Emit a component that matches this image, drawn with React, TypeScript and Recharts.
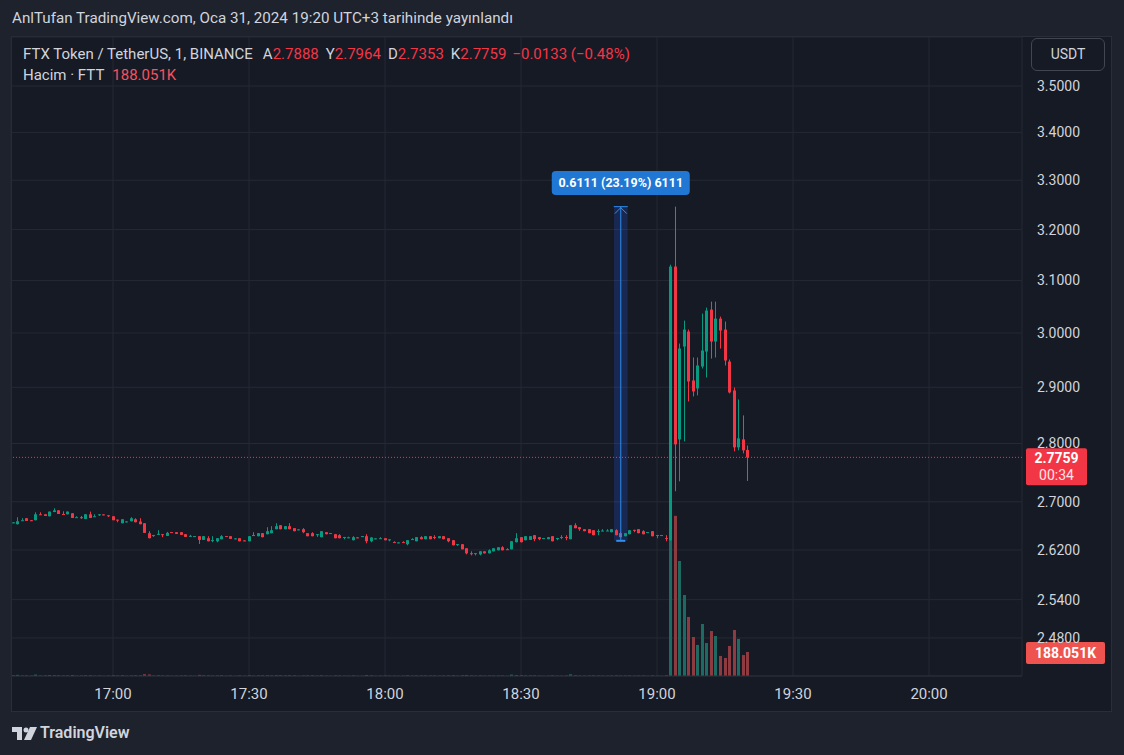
import React from 'react'
import {
  ComposedChart,
  Bar,
  XAxis,
  YAxis,
  CartesianGrid,
  ReferenceLine,
  ReferenceArea,
  ReferenceDot,
} from 'recharts'

// 1 dakikalık mumlar, 16:38'den 19:20'ye
const startMinute = 16 * 60 + 38
const slotCount = 223 // sağda 20:20'ye kadar boş alan

const open = [
  2.6650, 2.6625, 2.6685, 2.6724, 2.6691, 2.6691, 2.6790, 2.6790, 2.6757, 2.6828,
  2.6856, 2.6795, 2.6790, 2.6807, 2.6736, 2.6742, 2.6712, 2.6790, 2.6752, 2.6778,
  2.6788, 2.6774, 2.6757, 2.6700, 2.6641, 2.6667, 2.6674, 2.6707, 2.6669, 2.6641,
  2.6476, 2.6440, 2.6448, 2.6459, 2.6431, 2.6494, 2.6492, 2.6492, 2.6459, 2.6421,
  2.6424, 2.6426, 2.6365, 2.6393, 2.6355, 2.6343, 2.6377, 2.6428, 2.6426, 2.6386,
  2.6393, 2.6357, 2.6343, 2.6445, 2.6426, 2.6476, 2.6459, 2.6476, 2.6542, 2.6608,
  2.6542, 2.6592, 2.6559, 2.6535, 2.6542, 2.6476, 2.6476, 2.6455, 2.6410, 2.6492,
  2.6474, 2.6459, 2.6443, 2.6408, 2.6403, 2.6360, 2.6407, 2.6424, 2.6426, 2.6343,
  2.6386, 2.6390, 2.6393, 2.6370, 2.6329, 2.6320, 2.6329, 2.6294, 2.6374, 2.6343,
  2.6410, 2.6377, 2.6426, 2.6412, 2.6393, 2.6426, 2.6393, 2.6360, 2.6290, 2.6294,
  2.6228, 2.6147, 2.6143, 2.6128, 2.6178, 2.6145, 2.6178, 2.6195, 2.6244, 2.6213,
  2.6211, 2.6327, 2.6410, 2.6360, 2.6365, 2.6443, 2.6410, 2.6391, 2.6377, 2.6426,
  2.6391, 2.6408, 2.6412, 2.6377, 2.6608, 2.6575, 2.6542, 2.6542, 2.6525, 2.6507,
  2.6509, 2.6512, 2.6492, 2.6525, 2.6476, 2.6426, 2.6459, 2.6531, 2.6542, 2.6509,
  2.6490, 2.6509, 2.6440, 2.6441, 2.6395, 2.6360, 3.1270, 2.8072, 2.9747, 3.0027,
  2.9124, 2.8979, 2.9379, 2.9654, 3.0441, 2.9840, 3.0270, 3.0064, 2.9470, 2.8943,
  2.7933, 2.8072, 2.7888,
]

const high = [
  2.6658, 2.6740, 2.6724, 2.6726, 2.6693, 2.6823, 2.6823, 2.6792, 2.6835, 2.6890,
  2.6858, 2.6840, 2.6837, 2.6809, 2.6757, 2.6762, 2.6792, 2.6835, 2.6790, 2.6792,
  2.6790, 2.6776, 2.6759, 2.6702, 2.6709, 2.6673, 2.6740, 2.6724, 2.6724, 2.6643,
  2.6509, 2.6447, 2.6525, 2.6461, 2.6497, 2.6496, 2.6494, 2.6494, 2.6461, 2.6448,
  2.6430, 2.6428, 2.6428, 2.6426, 2.6426, 2.6395, 2.6443, 2.6430, 2.6428, 2.6392,
  2.6395, 2.6359, 2.6428, 2.6492, 2.6478, 2.6478, 2.6575, 2.6592, 2.6641, 2.6610,
  2.6594, 2.6641, 2.6561, 2.6541, 2.6559, 2.6478, 2.6492, 2.6462, 2.6511, 2.6494,
  2.6480, 2.6461, 2.6459, 2.6415, 2.6418, 2.6426, 2.6409, 2.6430, 2.6459, 2.6407,
  2.6392, 2.6410, 2.6395, 2.6376, 2.6343, 2.6326, 2.6343, 2.6362, 2.6393, 2.6412,
  2.6426, 2.6428, 2.6428, 2.6443, 2.6428, 2.6428, 2.6395, 2.6362, 2.6298, 2.6296,
  2.6230, 2.6178, 2.6150, 2.6180, 2.6180, 2.6211, 2.6230, 2.6246, 2.6261, 2.6228,
  2.6345, 2.6476, 2.6412, 2.6428, 2.6428, 2.6445, 2.6412, 2.6397, 2.6412, 2.6428,
  2.6398, 2.6443, 2.6443, 2.6610, 2.6641, 2.6577, 2.6544, 2.6544, 2.6527, 2.6542,
  2.6542, 2.6542, 2.6544, 2.6542, 2.6492, 2.6478, 2.6527, 2.6533, 2.6544, 2.6525,
  2.6496, 2.6511, 2.6447, 2.6447, 2.6443, 3.1306, 3.2461, 2.9803, 3.0233, 3.0064,
  2.9544, 2.9544, 3.0365, 3.0479, 3.0593, 3.0593, 3.0308, 3.0214, 2.9507, 2.8997,
  2.8781, 2.8496, 2.7964,
]

const low = [
  2.6648, 2.6620, 2.6683, 2.6679, 2.6686, 2.6689, 2.6780, 2.6762, 2.6755, 2.6826,
  2.6795, 2.6778, 2.6788, 2.6729, 2.6734, 2.6712, 2.6710, 2.6727, 2.6750, 2.6762,
  2.6782, 2.6745, 2.6691, 2.6658, 2.6639, 2.6665, 2.6672, 2.6656, 2.6623, 2.6479,
  2.6391, 2.6415, 2.6446, 2.6410, 2.6429, 2.6488, 2.6462, 2.6446, 2.6413, 2.6419,
  2.6422, 2.6299, 2.6363, 2.6341, 2.6327, 2.6327, 2.6375, 2.6422, 2.6380, 2.6384,
  2.6341, 2.6351, 2.6341, 2.6438, 2.6424, 2.6408, 2.6457, 2.6474, 2.6540, 2.6540,
  2.6540, 2.6540, 2.6507, 2.6533, 2.6476, 2.6424, 2.6424, 2.6415, 2.6408, 2.6457,
  2.6472, 2.6391, 2.6391, 2.6377, 2.6393, 2.6358, 2.6401, 2.6422, 2.6310, 2.6327,
  2.6384, 2.6388, 2.6358, 2.6343, 2.6323, 2.6318, 2.6323, 2.6277, 2.6372, 2.6341,
  2.6375, 2.6375, 2.6375, 2.6377, 2.6391, 2.6375, 2.6327, 2.6275, 2.6266, 2.6209,
  2.6128, 2.6112, 2.6112, 2.6112, 2.6143, 2.6143, 2.6176, 2.6193, 2.6193, 2.6207,
  2.6209, 2.6325, 2.6325, 2.6358, 2.6363, 2.6343, 2.6360, 2.6389, 2.6375, 2.6341,
  2.6360, 2.6377, 2.6360, 2.6375, 2.6557, 2.6514, 2.6507, 2.6474, 2.6441, 2.6443,
  2.6507, 2.6510, 2.6490, 2.6441, 2.6408, 2.6424, 2.6457, 2.6492, 2.6474, 2.6457,
  2.6488, 2.6424, 2.6393, 2.6439, 2.6343, 2.6350, 2.7178, 2.7347, 2.8037, 2.8745,
  2.8835, 2.8853, 2.9342, 2.9178, 2.9525, 2.9544, 2.9710, 2.9397, 2.8889, 2.7863,
  2.7881, 2.7829, 2.7353,
]

const close = [
  2.6655, 2.6674, 2.6691, 2.6679, 2.6686, 2.6790, 2.6783, 2.6762, 2.6835, 2.6856,
  2.6795, 2.6778, 2.6835, 2.6729, 2.6742, 2.6738, 2.6790, 2.6729, 2.6757, 2.6790,
  2.6784, 2.6762, 2.6691, 2.6694, 2.6707, 2.6671, 2.6724, 2.6658, 2.6625, 2.6481,
  2.6393, 2.6445, 2.6465, 2.6443, 2.6481, 2.6490, 2.6464, 2.6448, 2.6415, 2.6432,
  2.6428, 2.6365, 2.6426, 2.6343, 2.6362, 2.6393, 2.6426, 2.6424, 2.6382, 2.6390,
  2.6343, 2.6353, 2.6426, 2.6440, 2.6476, 2.6410, 2.6509, 2.6525, 2.6592, 2.6542,
  2.6592, 2.6542, 2.6509, 2.6539, 2.6492, 2.6426, 2.6426, 2.6460, 2.6509, 2.6459,
  2.6478, 2.6393, 2.6393, 2.6413, 2.6408, 2.6410, 2.6403, 2.6428, 2.6343, 2.6405,
  2.6390, 2.6394, 2.6360, 2.6374, 2.6325, 2.6324, 2.6325, 2.6360, 2.6379, 2.6410,
  2.6377, 2.6426, 2.6377, 2.6408, 2.6426, 2.6377, 2.6343, 2.6277, 2.6296, 2.6211,
  2.6145, 2.6143, 2.6148, 2.6178, 2.6145, 2.6195, 2.6228, 2.6244, 2.6195, 2.6209,
  2.6343, 2.6393, 2.6327, 2.6426, 2.6426, 2.6377, 2.6377, 2.6395, 2.6410, 2.6343,
  2.6396, 2.6413, 2.6408, 2.6608, 2.6559, 2.6542, 2.6509, 2.6476, 2.6443, 2.6511,
  2.6520, 2.6520, 2.6542, 2.6443, 2.6410, 2.6476, 2.6525, 2.6520, 2.6476, 2.6459,
  2.6494, 2.6426, 2.6445, 2.6445, 2.6391, 3.1270, 2.7985, 2.9710, 3.0064, 2.9106,
  2.8925, 2.9397, 2.9673, 3.0422, 2.9840, 3.0270, 3.0045, 2.9489, 2.8907, 2.7933,
  2.8090, 2.7881, 2.7759,
]

// hacim, bin FTT
const volume = [
  6, 9, 4, 5, 3, 11, 4, 5, 8, 7,
  6, 4, 5, 8, 3, 4, 7, 6, 3, 4,
  2, 3, 6, 4, 7, 3, 5, 6, 5, 14,
  12, 4, 6, 4, 5, 2, 3, 4, 5, 3,
  2, 9, 6, 5, 4, 5, 6, 2, 4, 2,
  5, 2, 7, 3, 5, 6, 6, 5, 7, 6,
  5, 6, 5, 2, 4, 5, 5, 3, 6, 3,
  2, 5, 4, 3, 3, 5, 2, 2, 8, 5,
  2, 3, 4, 3, 3, 2, 3, 6, 3, 5,
  4, 5, 4, 4, 3, 4, 5, 6, 3, 6,
  8, 5, 3, 5, 3, 4, 4, 4, 4, 2,
  11, 8, 7, 5, 5, 5, 3, 2, 3, 5,
  3, 3, 4, 13, 6, 4, 3, 4, 5, 4,
  3, 3, 4, 5, 4, 4, 5, 3, 4, 4,
  2, 5, 3, 2, 6, 1480, 1253, 900, 634, 462,
  305, 243, 407, 258, 352, 313, 157, 141, 235, 360,
  290, 164, 188.051,
]

const timeTicks = ['17:00', '17:30', '18:00', '18:30', '19:00', '19:30', '20:00']
const priceTicks = [2.48, 2.54, 2.62, 2.7, 2.8, 2.9, 3.0, 3.1, 3.2, 3.3, 3.4, 3.5]
const priceDomain = [2.4218, 3.6087]
const volumeDomain = [0, 5000]

const lastPrice = 2.7759
const lastVolume = 188.051
const rulerFrom = 2.635
const rulerTo = 3.2461
const rulerLabelAt = 3.2944
const rulerStart = '18:51'
const rulerMid = '18:52'
const rulerEnd = '18:53'

const UP = '#089981'
const DOWN = '#f23645'
const VOL_UP = '#1d6a62'
const VOL_DOWN = '#8e3a41'
const TEXT = '#d1d4dc'

const hhmm = (m: number) => `${Math.floor(m / 60)}:${String(m % 60).padStart(2, '0')}`

const rows = Array.from({ length: slotCount }, (_, i) => {
  const time = hhmm(startMinute + i)
  if (i >= open.length) return { time }
  return { time, o: open[i], h: high[i], l: low[i], c: close[i], vol: volume[i] }
})

const Candle = (props: any) => {
  const { x, y, width, height, payload } = props
  if (!payload || payload.o == null) return null
  const { o, h, l, c } = payload
  // bar spans [low, high] on a log axis, so open/close fall in between in log space
  const span = Math.log(h) - Math.log(l)
  const at = (v: number) => (span > 0 ? y + (height * (Math.log(h) - Math.log(v))) / span : y)
  const color = c >= o ? UP : DOWN
  const bx = Math.round(x)
  const bw = Math.max(1, Math.round(width))
  const top = at(Math.max(o, c))
  const bottom = at(Math.min(o, c))
  return (
    <g>
      <rect x={bx + Math.floor(bw / 2)} y={y} width={1} height={Math.max(1, height)} fill={color} />
      <rect x={bx} y={top} width={bw} height={Math.max(1, bottom - top)} fill={color} />
    </g>
  )
}

const VolumeBar = (props: any) => {
  const { x, y, width, height, payload } = props
  if (!payload || payload.vol == null) return null
  return (
    <rect
      x={Math.round(x)}
      y={y}
      width={Math.max(1, Math.round(width))}
      height={Math.max(1, height)}
      fill={payload.c >= payload.o ? VOL_UP : VOL_DOWN}
    />
  )
}

const PriceTag = (props: any) => {
  const { viewBox } = props
  if (!viewBox) return null
  const x = viewBox.x + viewBox.width + 4
  const y = viewBox.y
  return (
    <g>
      <rect x={x} y={y - 9} width={61} height={37} rx={2} fill={DOWN} />
      <text x={x + 30.5} y={y + 6} textAnchor="middle" fill="#ffffff" fontSize={14} fontWeight={700}>
        {lastPrice.toFixed(4)}
      </text>
      <text x={x + 30.5} y={y + 23} textAnchor="middle" fill="#ffe3e5" fontSize={14}>
        00:34
      </text>
    </g>
  )
}

const VolumeTag = (props: any) => {
  const { viewBox } = props
  if (!viewBox) return null
  const x = viewBox.x + viewBox.width + 4
  const y = viewBox.y
  return (
    <g>
      <rect x={x} y={y - 10} width={79} height={22} rx={2} fill="#ef5350" />
      <text x={x + 39.5} y={y + 6} textAnchor="middle" fill="#ffffff" fontSize={14} fontWeight={700}>
        {lastVolume.toFixed(3)}K
      </text>
    </g>
  )
}

const RulerHead = (props: any) => {
  const { cx, cy } = props
  return (
    <g stroke="#2f8ef0" strokeWidth={1} fill="none">
      <line x1={cx - 7} y1={cy} x2={cx + 7} y2={cy} />
      <polyline points={`${cx - 6},${cy + 7} ${cx},${cy + 1} ${cx + 6},${cy + 7}`} />
    </g>
  )
}

const RulerLabel = (props: any) => {
  const { cx, cy } = props
  return (
    <g>
      <rect x={cx - 69} y={cy - 12} width={138} height={24} rx={4} fill="#2177d4" />
      <text x={cx} y={cy + 4.5} textAnchor="middle" fill="#ffffff" fontSize={12.5} fontWeight={700}>
        0.6111 (23.19%) 6111
      </text>
    </g>
  )
}

const TvLogo = () => (
  <svg width={26} height={14} viewBox="0 0 26 14" style={{ position: 'absolute', left: 12, top: 727 }}>
    <path d="M0 0h10v13H5V5H0z" fill={TEXT} />
    <circle cx={14} cy={3} r={2.5} fill={TEXT} />
    <path d="M18 0h7l-6 13h-7z" fill={TEXT} />
  </svg>
)

const label = (text: string, value: string, gap = 7) => (
  <span style={{ marginLeft: gap }}>
    {text}
    <span style={{ color: DOWN }}>{value}</span>
  </span>
)

export default function App() {
  return (
    <div
      style={{
        position: 'fixed',
        left: 0,
        top: 0,
        width: 1124,
        height: 755,
        background: '#1e222d',
        fontFamily: 'Roboto, "Noto Sans", sans-serif',
        color: TEXT,
        overflow: 'hidden',
      }}
    >
      <div style={{ position: 'absolute', left: 12, top: 9, fontSize: 15.2, whiteSpace: 'nowrap' }}>
        AnlTufan TradingView.com, Oca 31, 2024 19:20 UTC+3 tarihinde yayınlandı
      </div>

      <div
        style={{
          position: 'absolute',
          left: 11,
          top: 36,
          width: 1101,
          height: 676,
          background: '#161a25',
          border: '1px solid #2a2e39',
          boxSizing: 'border-box',
        }}
      />

      <div style={{ position: 'absolute', left: 0, top: 0 }}>
        <ComposedChart
          width={1124}
          height={755}
          data={rows}
          margin={{ top: 37, right: 13, bottom: 45, left: 11 }}
          barCategoryGap="17%"
        >
          <CartesianGrid xAxisId="px" yAxisId="px" stroke="#252934" />
          <XAxis
            xAxisId="px"
            dataKey="time"
            ticks={timeTicks}
            interval={0}
            height={34}
            tickSize={0}
            tickMargin={12}
            axisLine={{ stroke: '#2a2e39' }}
            tick={{ fill: TEXT, fontSize: 15 }}
          />
          <XAxis xAxisId="vol" dataKey="time" hide />
          <YAxis
            yAxisId="px"
            orientation="right"
            scale="log"
            domain={priceDomain}
            allowDataOverflow
            ticks={priceTicks}
            interval={0}
            width={89}
            tickSize={0}
            tickMargin={15}
            axisLine={false}
            tick={{ fill: TEXT, fontSize: 14 }}
            tickFormatter={(v) => Number(v).toFixed(4)}
          />
          <YAxis yAxisId="vol" hide domain={volumeDomain} allowDataOverflow />

          <Bar
            xAxisId="vol"
            yAxisId="vol"
            dataKey="vol"
            shape={(p: any) => <VolumeBar {...p} />}
            isAnimationActive={false}
          />

          <ReferenceArea
            xAxisId="px"
            yAxisId="px"
            x1={rulerStart}
            x2={rulerEnd}
            y1={rulerFrom}
            y2={rulerTo}
            fill="#2962ff"
            fillOpacity={0.2}
            stroke="none"
          />
          <ReferenceLine
            xAxisId="px"
            yAxisId="px"
            segment={[
              { x: rulerMid, y: rulerFrom },
              { x: rulerMid, y: rulerTo },
            ]}
            stroke="#2f8ef0"
          />
          <ReferenceLine
            xAxisId="px"
            yAxisId="px"
            segment={[
              { x: rulerStart, y: rulerFrom },
              { x: rulerEnd, y: rulerFrom },
            ]}
            stroke="#2f8ef0"
            strokeWidth={2}
          />
          <ReferenceDot xAxisId="px" yAxisId="px" x={rulerMid} y={rulerTo} shape={(p: any) => <RulerHead {...p} />} />

          <Bar
            xAxisId="px"
            yAxisId="px"
            dataKey={(d: any) => (d.o == null ? null : [d.l, d.h])}
            shape={(p: any) => <Candle {...p} />}
            isAnimationActive={false}
          />

          <ReferenceDot xAxisId="px" yAxisId="px" x={rulerMid} y={rulerLabelAt} shape={(p: any) => <RulerLabel {...p} />} />

          <ReferenceLine
            xAxisId="px"
            yAxisId="px"
            y={lastPrice}
            stroke={DOWN}
            strokeDasharray="1 2"
            label={<PriceTag />}
          />
          <ReferenceLine
            xAxisId="vol"
            yAxisId="vol"
            y={lastVolume}
            stroke="none"
            strokeOpacity={0}
            label={<VolumeTag />}
          />
        </ComposedChart>
      </div>

      <div style={{ position: 'absolute', left: 23, top: 45, fontSize: 15, whiteSpace: 'nowrap', lineHeight: '18px' }}>
        <span>FTX Token / TetherUS, 1, BINANCE</span>
        {label('A', '2.7888', 10)}
        {label('Y', '2.7964')}
        {label('D', '2.7353')}
        {label('K', '2.7759')}
        <span style={{ marginLeft: 6, color: DOWN }}>−0.0133 (−0.48%)</span>
      </div>
      <div style={{ position: 'absolute', left: 23, top: 66, fontSize: 15, whiteSpace: 'nowrap', lineHeight: '18px' }}>
        <span>Hacim · FTT</span>
        <span style={{ marginLeft: 8, color: '#f7525f' }}>188.051K</span>
      </div>

      <div
        style={{
          position: 'absolute',
          left: 1031,
          top: 38,
          width: 74,
          height: 33,
          border: '1px solid #434651',
          borderRadius: 6,
          boxSizing: 'border-box',
          background: '#161a25',
          fontSize: 14,
          lineHeight: '31px',
          textAlign: 'center',
        }}
      >
        USDT
      </div>

      <TvLogo />
      <div style={{ position: 'absolute', left: 40, top: 723, fontSize: 16, fontWeight: 600 }}>TradingView</div>
    </div>
  )
}
